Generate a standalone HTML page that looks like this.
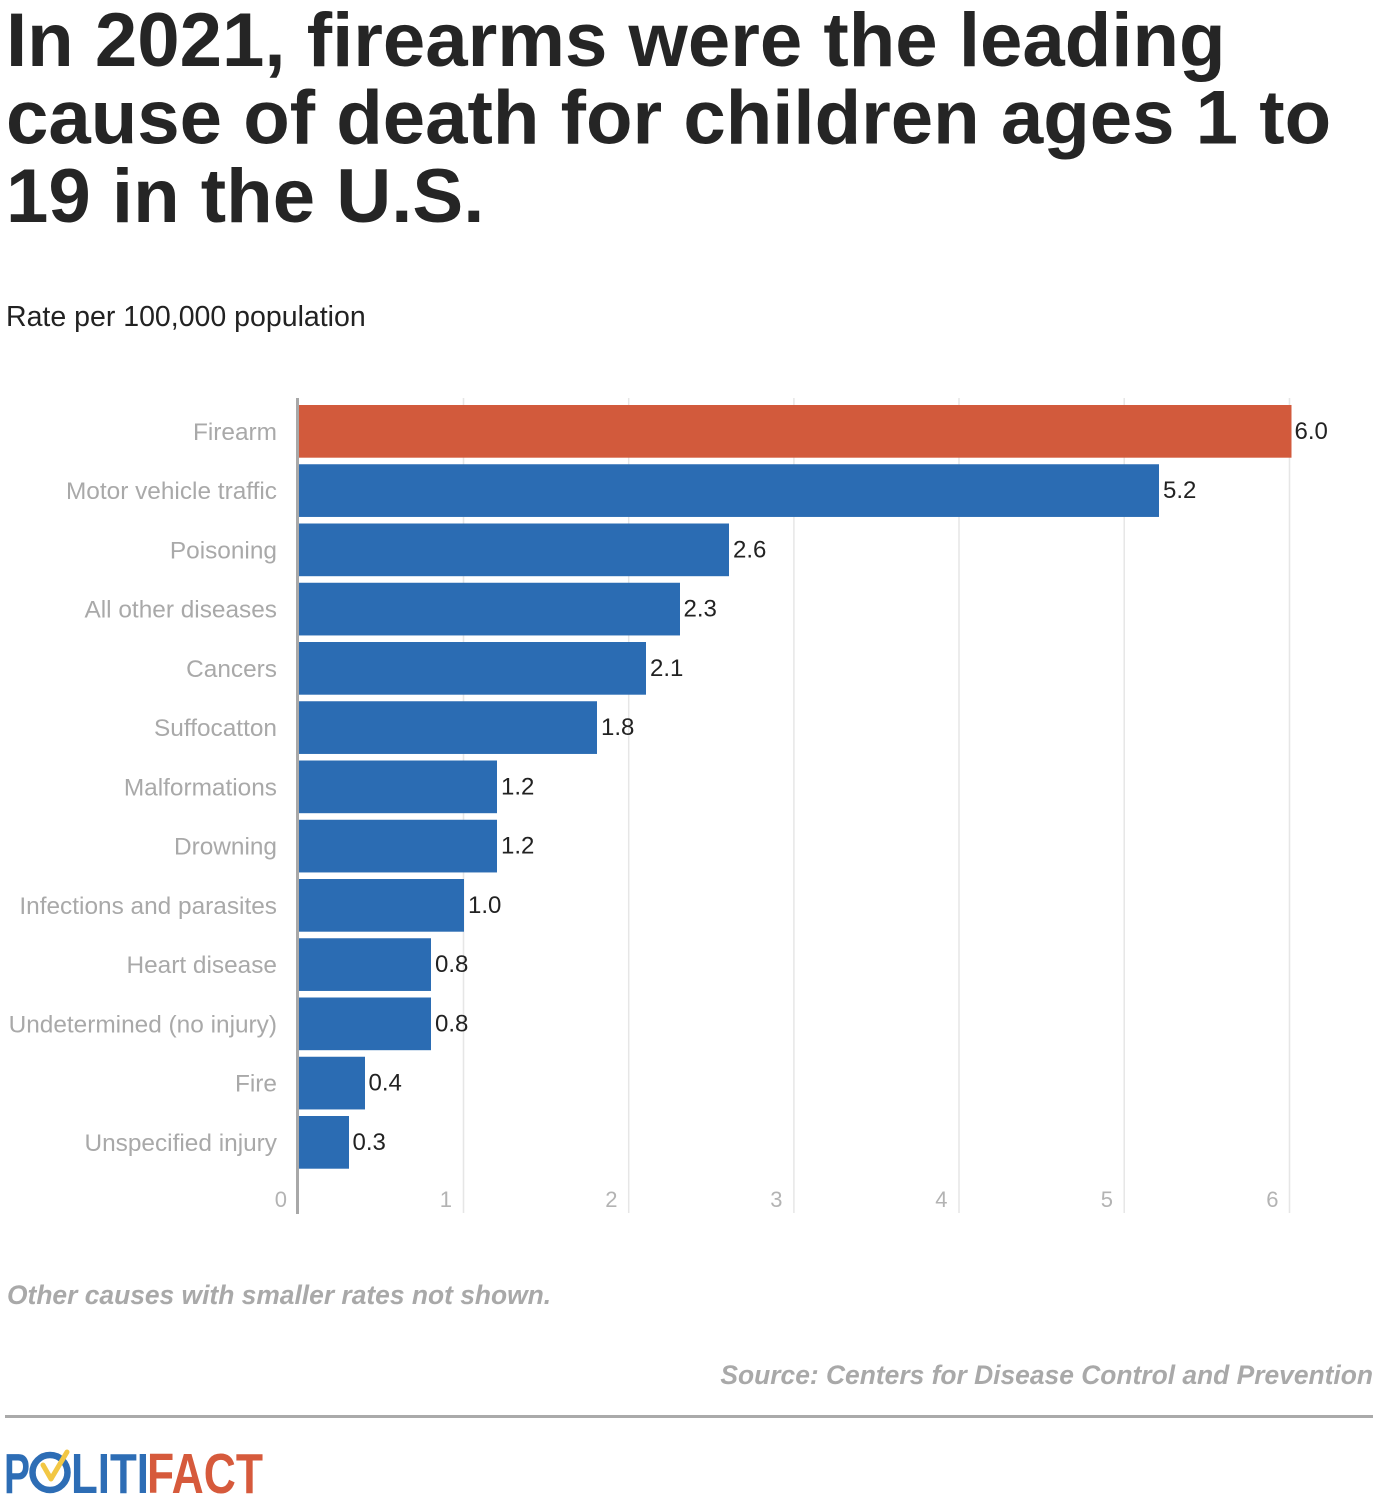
<!DOCTYPE html>
<html>
<head>
<meta charset="utf-8">
<style>
  html, body { margin: 0; padding: 0; background: #fff; }
  svg { display: block; }
</style>
</head>
<body>
<svg width="1382" height="1500" viewBox="0 0 1382 1500" xmlns="http://www.w3.org/2000/svg" font-family="'Liberation Sans', Arial, sans-serif">
  <!-- Title -->
  <g font-size="76.2" font-weight="bold" fill="#252525">
    <text x="6" y="66">In 2021, firearms were the leading</text>
    <text x="6" y="143.5">cause of death for children ages 1 to</text>
    <text x="6" y="222">19 in the U.S.</text>
  </g>
  <!-- Subtitle -->
  <text x="6" y="326" font-size="28.5" fill="#222">Rate per 100,000 population</text>

  <!-- Gridlines -->
  <g stroke="#e6e6e6" stroke-width="1.5">
    <line x1="463.5" y1="398" x2="463.5" y2="1213"/>
    <line x1="628.7" y1="398" x2="628.7" y2="1213"/>
    <line x1="793.9" y1="398" x2="793.9" y2="1213"/>
    <line x1="959" y1="398" x2="959" y2="1213"/>
    <line x1="1124.2" y1="398" x2="1124.2" y2="1213"/>
    <line x1="1289.5" y1="398" x2="1289.5" y2="1213"/>
  </g>

  <!-- Bars -->
  <g>
    <rect x="299" y="405" width="992.5" height="52.7" fill="#d25a3c"/>
    <rect x="299" y="464.25" width="860" height="52.7" fill="#2b6cb3"/>
    <rect x="299" y="523.5" width="430" height="52.7" fill="#2b6cb3"/>
    <rect x="299" y="582.75" width="381" height="52.7" fill="#2b6cb3"/>
    <rect x="299" y="642" width="347" height="52.7" fill="#2b6cb3"/>
    <rect x="299" y="701.25" width="298" height="52.7" fill="#2b6cb3"/>
    <rect x="299" y="760.5" width="198" height="52.7" fill="#2b6cb3"/>
    <rect x="299" y="819.75" width="198" height="52.7" fill="#2b6cb3"/>
    <rect x="299" y="879" width="165" height="52.7" fill="#2b6cb3"/>
    <rect x="299" y="938.25" width="132" height="52.7" fill="#2b6cb3"/>
    <rect x="299" y="997.5" width="132" height="52.7" fill="#2b6cb3"/>
    <rect x="299" y="1056.75" width="66" height="52.7" fill="#2b6cb3"/>
    <rect x="299" y="1116" width="50" height="52.7" fill="#2b6cb3"/>
  </g>

  <!-- Axis line -->
  <rect x="296" y="398" width="3" height="816" fill="#a8a8a8"/>

  <!-- Category labels -->
  <g font-size="24.4" fill="#a9a9a9" text-anchor="end">
    <text x="277" y="440">Firearm</text>
    <text x="277" y="499.2">Motor vehicle traffic</text>
    <text x="277" y="558.5">Poisoning</text>
    <text x="277" y="617.7">All other diseases</text>
    <text x="277" y="677">Cancers</text>
    <text x="277" y="736.2">Suffocatton</text>
    <text x="277" y="795.5">Malformations</text>
    <text x="277" y="854.7">Drowning</text>
    <text x="277" y="914">Infections and parasites</text>
    <text x="277" y="973.2">Heart disease</text>
    <text x="277" y="1032.5">Undetermined (no injury)</text>
    <text x="277" y="1091.7">Fire</text>
    <text x="277" y="1151">Unspecified injury</text>
  </g>

  <!-- Value labels -->
  <g font-size="24" fill="#222">
    <text x="1294.5" y="439">6.0</text>
    <text x="1163" y="498.2">5.2</text>
    <text x="733" y="557.5">2.6</text>
    <text x="683.5" y="616.7">2.3</text>
    <text x="650" y="676">2.1</text>
    <text x="601" y="735.2">1.8</text>
    <text x="501" y="794.5">1.2</text>
    <text x="501" y="853.7">1.2</text>
    <text x="468" y="913">1.0</text>
    <text x="435" y="972.2">0.8</text>
    <text x="435" y="1031.5">0.8</text>
    <text x="368.5" y="1090.7">0.4</text>
    <text x="352.5" y="1150">0.3</text>
  </g>

  <!-- Tick labels -->
  <g font-size="22" fill="#b3b3b3" text-anchor="end">
    <text x="287" y="1207">0</text>
    <text x="452" y="1207">1</text>
    <text x="617.5" y="1207">2</text>
    <text x="782.5" y="1207">3</text>
    <text x="947.5" y="1207">4</text>
    <text x="1113" y="1207">5</text>
    <text x="1278.5" y="1207">6</text>
  </g>

  <!-- Footnote -->
  <text x="7" y="1304" font-size="26.4" font-weight="bold" font-style="italic" fill="#a9a9a9">Other causes with smaller rates not shown.</text>

  <!-- Source -->
  <text x="1373" y="1384" font-size="26.4" font-weight="bold" font-style="italic" fill="#a9a9a9" text-anchor="end">Source: Centers for Disease Control and Prevention</text>

  <!-- Rule -->
  <rect x="5" y="1415" width="1368" height="3" fill="#aaaaaa"/>

  <!-- Logo -->
  <g font-size="57" font-weight="bold">
    <text x="4" y="1493" fill="#2d6db5" textLength="26" lengthAdjust="spacingAndGlyphs">P</text>
    <circle cx="50" cy="1472.5" r="17.5" fill="none" stroke="#2d6db5" stroke-width="6.5"/>
    <polyline points="43,1465 51,1479 67,1452" fill="none" stroke="#f2c744" stroke-width="5" stroke-linecap="round" stroke-linejoin="round"/>
    <text x="71" y="1493" fill="#2d6db5" textLength="78" lengthAdjust="spacingAndGlyphs">LITI</text>
    <text x="147" y="1493" fill="#d65a3c" textLength="116" lengthAdjust="spacingAndGlyphs">FACT</text>
  </g>
</svg>
</body>
</html>
